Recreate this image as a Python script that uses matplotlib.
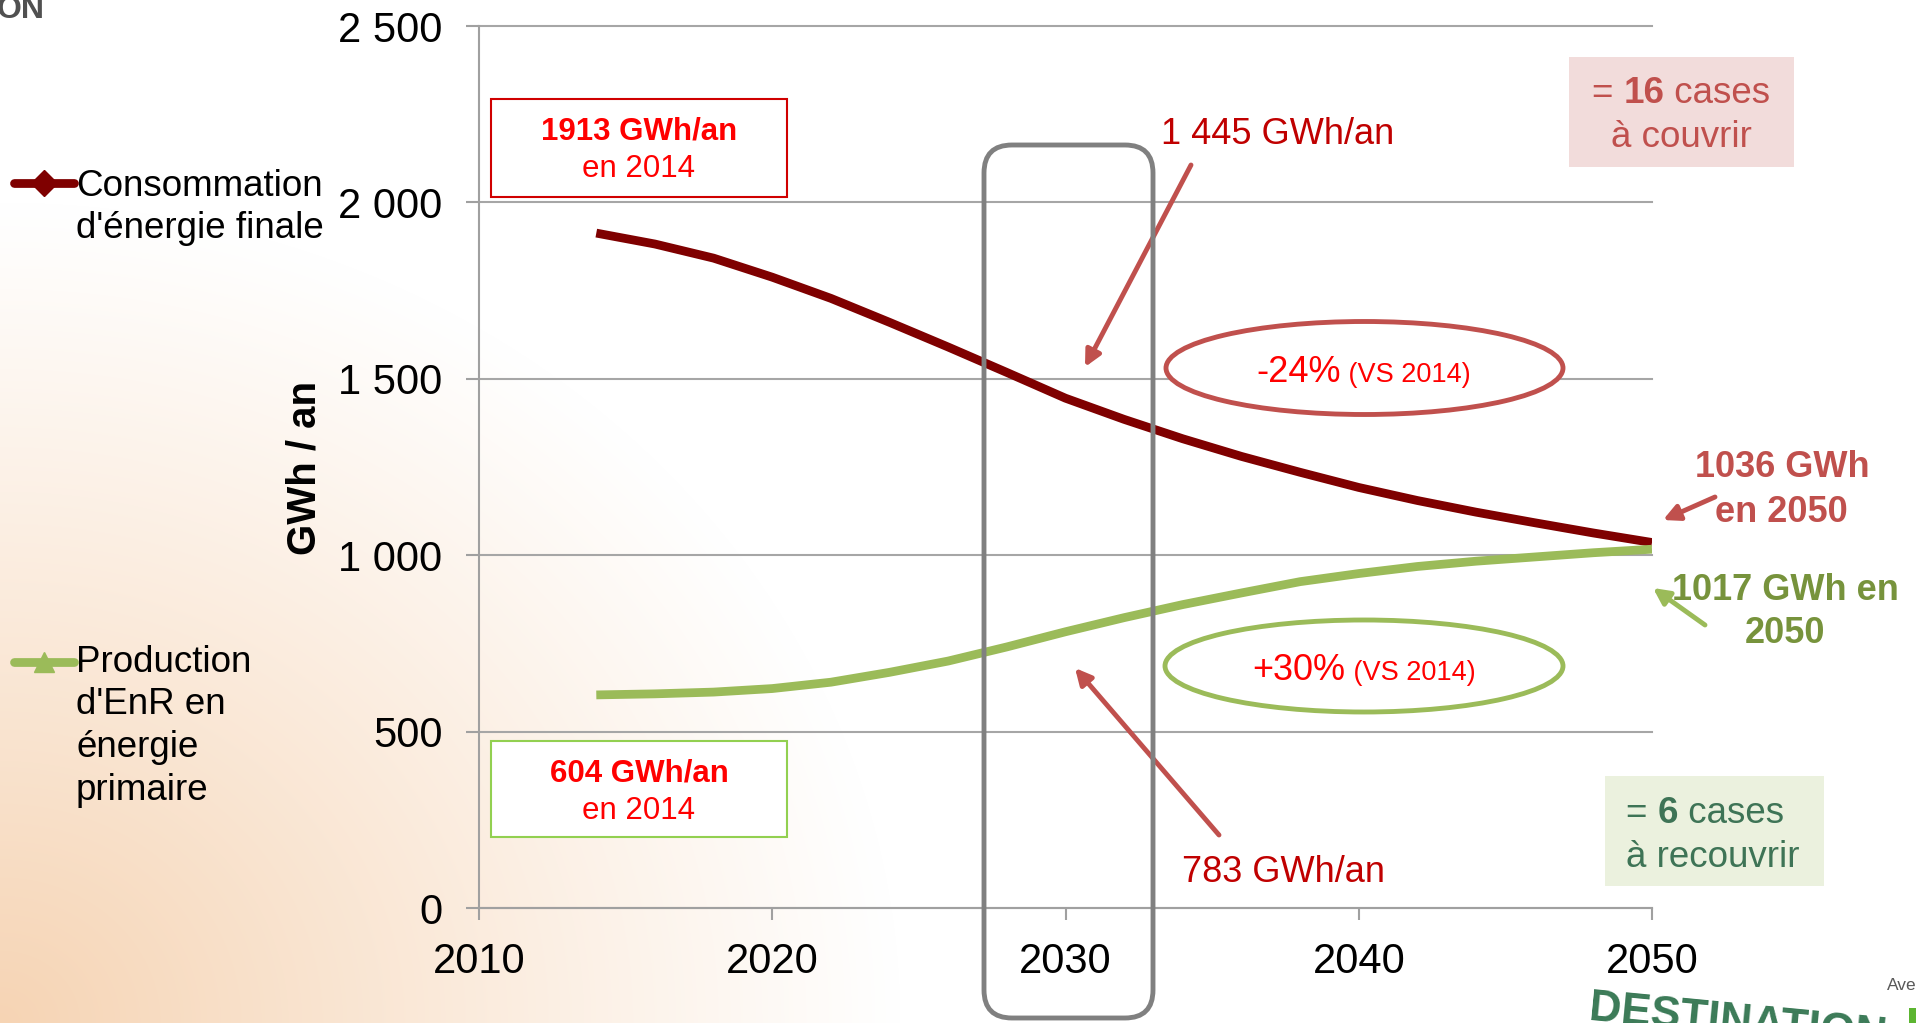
import numpy as np
import matplotlib
matplotlib.use("Agg")
import matplotlib.pyplot as plt
from matplotlib.patches import Ellipse, FancyBboxPatch, Rectangle
from matplotlib.lines import Line2D
from matplotlib.transforms import IdentityTransform

plt.rcParams['font.family'] = ['Liberation Sans', 'DejaVu Sans']

# ---------------- data ----------------
years = [2014, 2016, 2018, 2020, 2022, 2024, 2026, 2028, 2030, 2032, 2034,
         2036, 2038, 2040, 2042, 2044, 2046, 2048, 2050]
consommation = [1913, 1882, 1842, 1788, 1728, 1660, 1590, 1518, 1445, 1385, 1330,
                1280, 1235, 1192, 1155, 1122, 1092, 1063, 1036]
production = [604, 607, 612, 622, 640, 668, 700, 740, 783, 823, 860,
              893, 925, 948, 968, 983, 995, 1007, 1017]
y_ticks = [0, 500, 1000, 1500, 2000, 2500]
y_tick_labels = ["0", "500", "1 000", "1 500", "2 000", "2 500"]
x_ticks = [2010, 2020, 2030, 2040, 2050]
series_labels = ["Consommation\nd'énergie finale", "Production\nd'EnR en\nénergie\nprimaire"]

W, H = 1916, 1023
fig = plt.figure(figsize=(W / 100, H / 100), dpi=100)
PX = IdentityTransform()


def P(x, y):
    return (x, H - y)


# ---------------- background gradient ----------------
bg = fig.add_axes([0, 0, 1, 1], zorder=-10)
bg.axis('off')
yy, xx = np.mgrid[0:H, 0:W]
d = np.sqrt((xx / 900.0) ** 2 + ((H - yy) / 820.0) ** 2)
t = np.clip(1 - d, 0, 1) ** 1.05
peach = np.array([246, 212, 180]) / 255.0
img = 1 - t[..., None] * (1 - peach)
bg.imshow(img, extent=[0, 1, 0, 1], aspect='auto', origin='upper')
bg.set_xlim(0, 1)
bg.set_ylim(0, 1)

# ---------------- main axes ----------------
ax = fig.add_axes([479 / W, 1 - 908 / H, (1652 - 479) / W, (908 - 26) / H])
ax.set_facecolor('none')
ax.set_xlim(2010, 2050)
ax.set_ylim(0, 2500)
ax.set_yticks(y_ticks)
ax.set_yticklabels(y_tick_labels)
ax.set_xticks(x_ticks)
ax.set_xticklabels([str(v) for v in x_ticks])
for s in ['top', 'right']:
    ax.spines[s].set_visible(False)
for s in ['left', 'bottom']:
    ax.spines[s].set_color('#A0A0A0')
    ax.spines[s].set_linewidth(1.5)
ax.tick_params(axis='y', direction='out', length=9.4, width=1.5, color='#A0A0A0',
               labelsize=30, pad=17)
ax.tick_params(axis='x', direction='out', length=8.6, width=1.5, color='#A0A0A0',
               labelsize=30, pad=16)
ax.yaxis.grid(True, color='#A6A6A6', lw=1.5)
for gl in ax.get_ygridlines():
    gl.set_clip_on(False)
ax.set_axisbelow(True)

ax.plot(years, consommation, color='#7F0000', lw=6.3, solid_capstyle='butt',
        solid_joinstyle='round', zorder=3)
ax.plot(years, production, color='#9BBB59', lw=6.3, solid_capstyle='butt',
        solid_joinstyle='round', zorder=3)

fig.text(305 / W, 1 - 468 / H, "GWh / an", rotation=90, fontsize=29,
         weight='bold', ha='center', va='center')

# ---------------- legend (manual) ----------------
leg_cfg = [(183, 196, '#7F0000', 'D', 13), (662, 672, '#9BBB59', '^', 15)]
for (y_line, y_base, col, mk, ms), lab in zip(leg_cfg, series_labels):
    fig.add_artist(Line2D([14, 74], [H - y_line] * 2, color=col, lw=6.3,
                          solid_capstyle='round', transform=PX))
    fig.add_artist(Line2D([44], [H - y_line], marker=mk, ms=ms, color=col,
                          lw=0, transform=PX))
    for i, line in enumerate(lab.split("\n")):
        fig.text(76, H - (y_base + i * 42.5), line, transform=PX, fontsize=26.5,
                 va='baseline', ha='left', color='black')

# ---------------- helper for mixed runs ----------------
renderer = fig.canvas.get_renderer()


def text_width(s, **kw):
    t1 = fig.text(0, 0, "|" + s + "|", **kw)
    t2 = fig.text(0, 0, "||", **kw)
    w = t1.get_window_extent(renderer=renderer).width - t2.get_window_extent(renderer=renderer).width
    t1.remove()
    t2.remove()
    return w


def runs(x, y_base, parts, ha='left', zorder=6):
    widths = [text_width(s, **kw) for s, kw in parts]
    total = sum(widths)
    x0 = x - total / 2 if ha == 'center' else (x - total if ha == 'right' else x)
    for (s, kw), w in zip(parts, widths):
        fig.text(x0, H - y_base, s, transform=PX, va='baseline', ha='left',
                 zorder=zorder, **kw)
        x0 += w


# ---------------- 2014 boxes ----------------
for (y0, y1, ec, b1, b2, t1, t2) in [
        (99, 197, '#D00000', 140, 177, "1913 GWh/an", "en 2014"),
        (741, 837, '#92D050', 782, 819, "604 GWh/an", "en 2014")]:
    fig.add_artist(Rectangle(P(491, y1), 296, y1 - y0, transform=PX, fc='white',
                             ec=ec, lw=1.5, zorder=4))
    fig.text(639, H - b1, t1, transform=PX, fontsize=22.5, weight='bold',
             color='#FF0000', ha='center', va='baseline', zorder=5)
    fig.text(639, H - b2, t2, transform=PX, fontsize=22.5,
             color='#FF0000', ha='center', va='baseline', zorder=5)

# ---------------- 2030 highlight rectangle ----------------
fig.add_artist(FancyBboxPatch(P(984, 1018), 169, 1018 - 145,
                              boxstyle="round,pad=0,rounding_size=28",
                              fill=False, ec='#808080', lw=3.5, transform=PX,
                              zorder=2))

# ---------------- ellipses ----------------
fig.add_artist(Ellipse(P(1364.5, 368), 397, 93, transform=PX, fc='white',
                       ec='#C0504D', lw=3.5, zorder=4))
fig.add_artist(Ellipse(P(1364, 666), 398, 92, transform=PX, fc='white',
                       ec='#9BBB59', lw=3.5, zorder=4))
runs(1363.5, 382, [("-24%", dict(fontsize=26, color='#FF0000')),
                   (" (VS 2014)", dict(fontsize=19.5, color='#FF0000'))], ha='center')
runs(1364, 680, [("+30%", dict(fontsize=26, color='#FF0000')),
                 (" (VS 2014)", dict(fontsize=19.5, color='#FF0000'))], ha='center')

# ---------------- 2030 annotations ----------------
fig.text(1278, H - 144, "1 445 GWh/an", transform=PX, fontsize=26,
         color='#C00000', ha='center', va='baseline')
fig.text(1283, H - 882, "783 GWh/an", transform=PX, fontsize=26,
         color='#C00000', ha='center', va='baseline')


def arrow(tail, head, col):
    ax.annotate('', xy=P(*head), xytext=P(*tail), xycoords='figure pixels',
                textcoords='figure pixels', annotation_clip=False,
                arrowprops=dict(arrowstyle='-|>', color=col, lw=3.5,
                                mutation_scale=24, shrinkA=0, shrinkB=0),
                zorder=7)


arrow((1191, 165), (1085, 367), '#C0504D')
arrow((1219, 835), (1075, 668), '#C0504D')
arrow((1715, 497), (1663, 520), '#C0504D')
arrow((1705, 625), (1653, 588), '#9BBB59')

# ---------------- 2050 labels ----------------
fig.text(1782, H - 477, "1036 GWh", transform=PX, fontsize=26, weight='bold',
         color='#C0504D', ha='center', va='baseline')
fig.text(1781, H - 522, "en 2050", transform=PX, fontsize=26, weight='bold',
         color='#C0504D', ha='center', va='baseline')
fig.text(1785, H - 600, "1017 GWh en", transform=PX, fontsize=26, weight='bold',
         color='#77933C', ha='center', va='baseline')
fig.text(1785, H - 643, "2050", transform=PX, fontsize=26, weight='bold',
         color='#77933C', ha='center', va='baseline')

# ---------------- "cases" boxes ----------------
fig.add_artist(Rectangle(P(1569, 167), 225, 110, transform=PX, fc='#F2DCDB',
                         ec='none', zorder=4))
runs(1681, 103, [("= ", dict(fontsize=26.5, color='#C0504D')),
                 ("16", dict(fontsize=26.5, color='#C0504D', weight='bold')),
                 (" cases", dict(fontsize=26.5, color='#C0504D'))], ha='center')
runs(1681, 147, [("à couvrir", dict(fontsize=26.5, color='#C0504D'))], ha='center')

fig.add_artist(Rectangle(P(1605, 886), 219, 110, transform=PX, fc='#EBF1DE',
                         ec='none', zorder=4))
runs(1626, 823, [("= ", dict(fontsize=26.5, color='#3E7456')),
                 ("6", dict(fontsize=26.5, color='#3E7456', weight='bold')),
                 (" cases", dict(fontsize=26.5, color='#3E7456'))])
runs(1626, 867, [("à recouvrir", dict(fontsize=26.5, color='#3E7456'))])

# ---------------- slide decorations ----------------
fig.text(-3, H - 18, "ON", transform=PX, fontsize=23, weight='heavy',
         color='#505050', ha='left', va='baseline')
fig.add_artist(Rectangle((1580, H - 1040), 330, 60, angle=-5.5, transform=PX,
                         fc='white', ec='none', alpha=0.8, zorder=1))
fig.text(1588, H - 1020, "DESTINATION", transform=PX, fontsize=32, weight='bold',
         color='#3B7A57', rotation=-5.5, rotation_mode='anchor', ha='left',
         va='baseline', fontstretch='condensed', zorder=2)
fig.text(1887, H - 990, "Ave", transform=PX, fontsize=12.5, color='#595959',
         ha='left', va='baseline')
fig.add_artist(Rectangle(P(1909, 1023), 8, 15, transform=PX, fc='#5CB531',
                         ec='none'))

fig.savefig("out.png", dpi=100)
